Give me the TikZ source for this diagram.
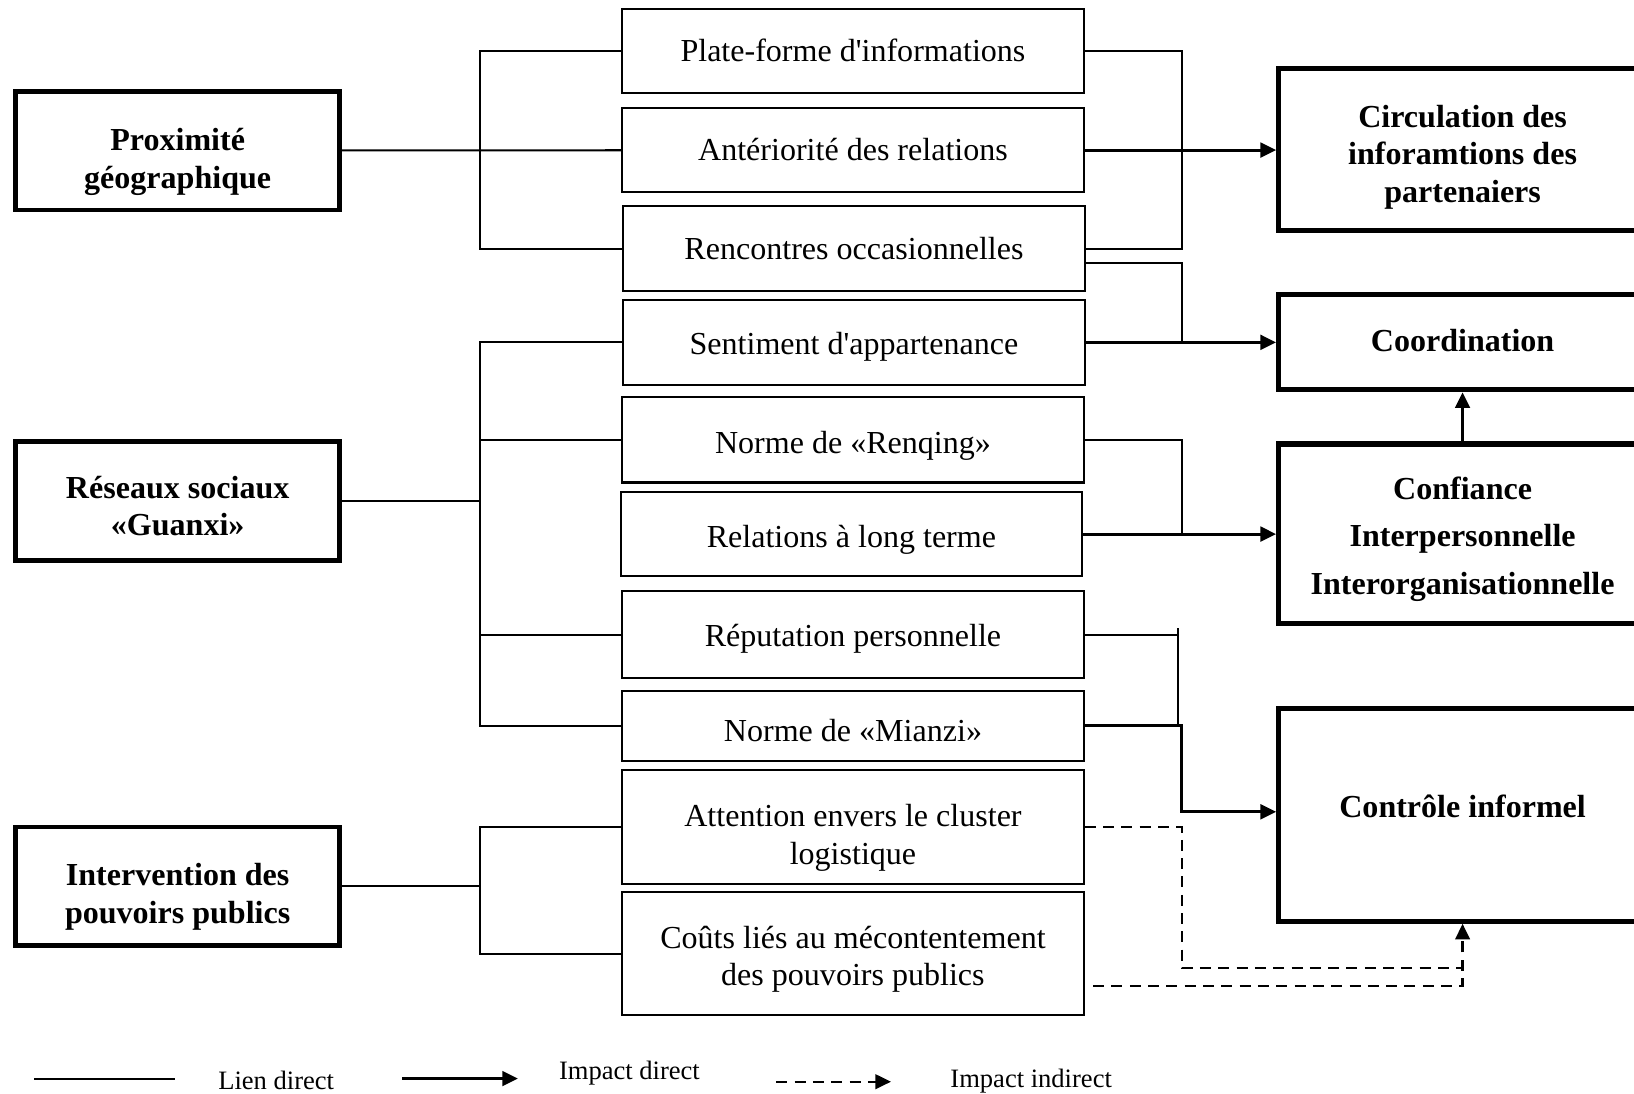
\documentclass[tikz,border=0pt]{standalone}
\usepackage{fontspec}
\setmainfont{Liberation Serif}
\usepackage{tikz}
\usetikzlibrary{arrows.meta}
% lowers a (multi-line) label inside its box, box size unchanged
\newcommand{\dn}[2]{\raisebox{-#1}[\height][\depth]{\begin{tabular}{@{}c@{}}#2\end{tabular}}}

\begin{document}
\begin{tikzpicture}[
  src/.style={draw,line width=2.6pt,minimum width=6.22cm,minimum height=2.28cm,
              align=center,font=\fontsize{17.5}{20.5}\selectfont\bfseries},
  mid/.style={draw,line width=1.1pt,minimum width=8.86cm,minimum height=1.62cm,
              align=center,font=\fontsize{17.5}{20.5}\selectfont},
  res/.style={draw,line width=2.8pt,minimum width=7.06cm,
              align=center,font=\fontsize{17.5}{20.5}\selectfont\bfseries},
  leg/.style={font=\fontsize{14.5}{17}\selectfont},
  lnk/.style={line width=1.1pt},
  arr/.style={line width=1.6pt,-{Triangle[length=3mm,width=2.8mm]}},
  dsh/.style={line width=1.3pt,dash pattern=on 6pt off 4pt,-{Triangle[length=3mm,width=2.8mm]}}
]
\useasboundingbox (0,0) rectangle (31.36,-20.98);

\node[src] (g1) at (3.41,-2.89)  {\dn{0.22cm}{Proximité\\géographique}};
\node[src] (g2) at (3.41,-9.62)  {\dn{0.16cm}{Réseaux sociaux\\«Guanxi»}};
\node[src] (g3) at (3.41,-17.01) {\dn{0.2cm}{Intervention des\\pouvoirs publics}};

\node[mid,minimum height=1.6cm]  (m1)  at (16.37,-0.98)  {\dn{0.06cm}{Plate-forme d\textquotesingle informations}};
\node[mid,minimum height=1.6cm]  (m2)  at (16.37,-2.88)  {\dn{0.06cm}{Antériorité des relations}};
\node[mid]                       (m3)  at (16.39,-4.77)  {\dn{0.06cm}{Rencontres occasionnelles}};
\node[mid]                       (m4)  at (16.39,-6.57)  {\dn{0.09cm}{Sentiment d\textquotesingle appartenance}};
\node[mid,minimum height=1.64cm] (m5)  at (16.37,-8.44)  {\dn{0.11cm}{Norme de «Renqing»}};
\node[mid]                       (m6)  at (16.34,-10.25) {\dn{0.11cm}{Relations à long terme}};
\node[mid,minimum height=1.68cm] (m7)  at (16.37,-12.18) {\dn{0.08cm}{Réputation personnelle}};
\node[mid,minimum height=1.34cm] (m8)  at (16.37,-13.93) {\dn{0.16cm}{Norme de «Mianzi»}};
\node[mid,minimum height=2.18cm] (m9)  at (16.37,-15.87) {\dn{0.21cm}{Attention envers le cluster\\logistique}};
\node[mid,minimum height=2.36cm] (m10) at (16.37,-18.3)  {\dn{0.11cm}{Coûts liés au mécontentement\\des pouvoirs publics}};

\node[res,minimum height=3.1cm]  (r1) at (28.07,-2.87)  {\dn{0.15cm}{Circulation des\\inforamtions des\\partenaiers}};
\node[res,minimum height=1.82cm] (r2) at (28.07,-6.57)  {\dn{0.04cm}{Coordination}};
\node[res,minimum height=3.44cm,font=\fontsize{17.5}{26}\selectfont\bfseries]
                                 (r3) at (28.07,-10.24) {\dn{0.07cm}{Confiance\\Interpersonnelle\\Interorganisationnelle}};
\node[res,minimum height=4.08cm] (r4) at (28.07,-15.64) {\dn{-0.1cm}{Contrôle informel}};

% bus columns
\coordinate (lbus) at (9.22,0);
\coordinate (rbus) at (22.68,0);
\coordinate (cbus) at (22.6,0);
\coordinate (dlow) at (0,-18.58);

% lien direct, left side
\draw[lnk] (g1) -- (m2);
\draw[lnk] (m1.west) -- (m1.west -| lbus) |- (m3.west);
\draw[lnk] (g2.east) -- (g2.east -| lbus);
\draw[lnk] (m4.west) -- (m4.west -| lbus) |- (m8.west);
\draw[lnk] (m5.west) -- (m5.west -| lbus);
\draw[lnk] (m7.west) -- (m7.west -| lbus);
\draw[lnk] (g3.east) -- (g3.east -| lbus);
\draw[lnk] (m9.west) -- (m9.west -| lbus) |- (m10.west);

% impacts, right side
\draw[lnk] (m1.east) -- (m1.east -| rbus) |- (m3.east);
\draw[arr] (m2.east) -- (m2.east -| r1.west);
\draw[lnk] ([yshift=-0.27cm]m3.east) -| (rbus |- m4.east);
\draw[arr] (m4.east) -- (m4.east -| r2.west);
\draw[lnk] (m5.east) -| (rbus |- m6.east);
\draw[arr] (m6.east) -- (m6.east -| r3.west);
\draw[arr] (r3) -- (r2);
\draw[lnk] (m7.east) -- (m7.east -| cbus);
\draw[lnk] ([yshift=0.12cm]m7.east -| cbus) -- (m8.east -| cbus);
\draw[arr] (m8.east) -- (m8.east -| rbus) |- ([yshift=0.06cm]r4.west);
\draw[dsh,-] (m9.east) -- (m9.east -| rbus) |- (r4.south |- dlow);
\draw[dsh] ([xshift=0.16cm,yshift=-0.62cm]m10.east) -| (r4.south);

% legend
\coordinate (l1a) at (0.66,-20.7);
\coordinate (l1b) at (3.36,-20.7);
\coordinate (l2a) at (7.72,-20.7);
\coordinate (l2b) at (9.94,-20.7);
\coordinate (l3a) at (14.9,-20.76);
\coordinate (l3b) at (17.1,-20.76);
\node[leg] (t1) at (5.3,-20.74)  {Lien direct};
\node[leg] (t2) at (12.08,-20.6) {Impact direct};
\node[leg] (t3) at (19.79,-20.74) {Impact indirect};
\draw[lnk] (l1a) -- (l1b);
\draw[arr] (l2a) -- (l2b);
\draw[dsh] (l3a) -- (l3b);
\end{tikzpicture}
\end{document}
